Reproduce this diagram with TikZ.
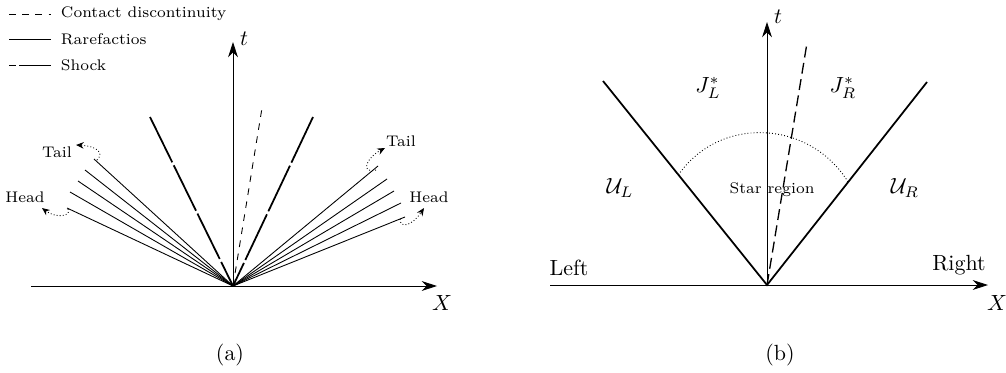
\documentclass[tikz,border=0pt]{standalone}
\usetikzlibrary{arrows.meta,calc}
\tikzset{
	axisarrow/.style={-{Stealth[length=7pt,width=4.5pt]}},
	shockwave/.style={thick, dash pattern=on 23pt off 1.5pt},
	fanline/.style={thin},
	contactline/.style={dashed},
	curlarrow/.style={densely dotted, -{Stealth[length=3.5pt,width=3pt]}},
	smalltext/.style={font=\scriptsize}
}
\begin{document}
\begin{tikzpicture}
	\useasboundingbox (0,0) rectangle (16.096,5.952);
	% (a)
	\coordinate (Oa) at (3.728,1.376);
	\coordinate (Xa0) at (0.496,1.376);
	\coordinate (Xa1) at (6.992,1.376);
	\coordinate (Ta1) at (3.728,5.28);
	\draw[axisarrow] (Xa0) -- (Xa1);
	\draw[axisarrow] (Oa) -- (Ta1);
	\node (ta) at (3.904,5.34) {$t$};
	\node (xa) at (7.072,1.104) {$X$};
	\node (capa) at (3.68,0.28) {(a)};
	\coordinate (SLa) at (2.4,4.08);
	\coordinate (SRa) at (5.008,4.08);
	\coordinate (Ca) at (4.192,4.224);
	\draw[shockwave] (SLa) -- (Oa);
	\draw[shockwave] (SRa) -- (Oa);
	\draw[contactline] (Oa) -- (Ca);
	\coordinate (L1) at (1.504,3.408);
	\coordinate (L2) at (1.36,3.232);
	\coordinate (L3) at (1.248,3.056);
	\coordinate (L4) at (1.12,2.88);
	\coordinate (L5) at (1.072,2.624);
	\coordinate (R1) at (6.048,3.296);
	\coordinate (R2) at (6.192,3.088);
	\coordinate (R3) at (6.304,2.896);
	\coordinate (R4) at (6.416,2.704);
	\coordinate (R5) at (6.48,2.48);
	\foreach \f in {L1,L2,L3,L4,L5,R1,R2,R3,R4,R5}
		\draw[fanline] (Oa) -- (\f);
	\node[smalltext] (tailL) at (0.912,3.52) {Tail};
	\node[smalltext] (headL) at (0.4,2.8) {Head};
	\node[smalltext] (tailR) at (6.416,3.696) {Tail};
	\node[smalltext] (headR) at (6.864,2.8) {Head};
	\draw[curlarrow] (1.552,3.392) .. controls (1.68,3.52) and (1.52,3.616) .. (1.216,3.632);
	\draw[curlarrow] (1.088,2.608) .. controls (1.152,2.48) and (0.88,2.464) .. (0.672,2.624);
	\draw[curlarrow] (6.016,3.232) .. controls (5.76,3.168) and (5.856,3.424) .. (6.16,3.584);
	\draw[curlarrow] (6.4,2.448) .. controls (6.4,2.288) and (6.592,2.336) .. (6.784,2.624);
	% legend
	\draw[contactline] (0.144,5.728) -- (0.816,5.728) node[smalltext, right=1pt] (legC) {Contact discontinuity};
	\draw[fanline] (0.144,5.328) -- (0.816,5.328) node[smalltext, right=1pt] (legR) {Rarefactios};
	\draw[shockwave, thin, dash phase=19.8pt] (0.144,4.912) -- (0.816,4.912) node[smalltext, right=1pt] (legS) {Shock};
	% (b)
	\coordinate (Ob) at (12.272,1.392);
	\coordinate (Xb0) at (8.8,1.392);
	\coordinate (Xb1) at (15.808,1.392);
	\coordinate (Tb1) at (12.272,5.6);
	\draw[axisarrow] (Xb0) -- (Xb1);
	\draw[axisarrow] (Ob) -- (Tb1);
	\node (tb) at (12.448,5.69) {$t$};
	\node (xb) at (15.952,1.104) {$X$};
	\node (capb) at (12.48,0.28) {(b)};
	\coordinate (SLb) at (9.648,4.656);
	\coordinate (SRb) at (14.832,4.64);
	\coordinate (Cb) at (12.912,5.264);
	\draw[thick] (SLb) -- (Ob) -- (SRb);
	\draw[semithick, dash pattern=on 5pt off 2.5pt] (Ob) -- (Cb);
	\coordinate (arcL) at ($(Ob)!0.54!(SLb)$);
	\coordinate (arcR) at ($(Ob)!0.507!(SRb)$);
	\draw[densely dotted] (arcL) .. controls (11.52,4.112) and (12.96,4.032) .. (arcR);
	\node (JL) at (11.328,4.544) {$J_L^*$};
	\node (JR) at (13.488,4.544) {$J_R^*$};
	\node (UL) at (9.92,2.944) {$\mathcal{U}_L$};
	\node (UR) at (14.48,2.944) {$\mathcal{U}_R$};
	\node[smalltext] (star) at (12.352,2.912) {Star region};
	\node (left) at (9.104,1.664) {Left};
	\node (right) at (15.344,1.712) {Right};
\end{tikzpicture}
\end{document}
